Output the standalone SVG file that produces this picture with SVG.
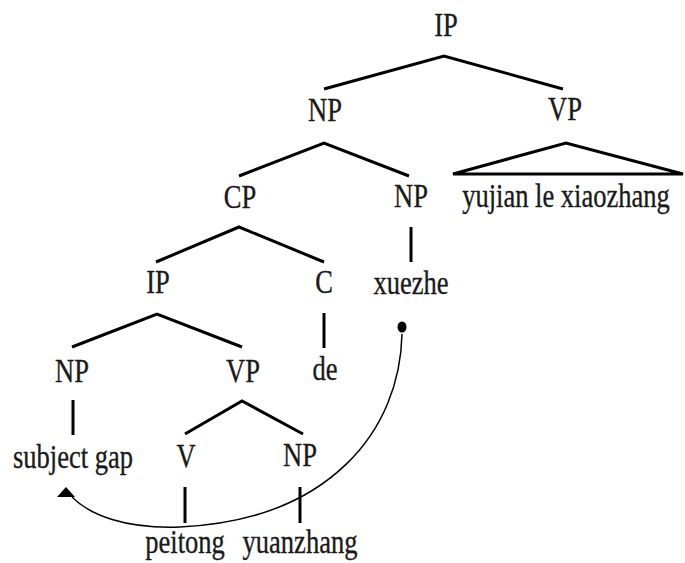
<svg xmlns="http://www.w3.org/2000/svg" width="685" height="563" viewBox="0 0 685 563">
<style>
text{font-family:"Liberation Serif","Times New Roman",serif;font-size:34px;fill:#1a1a1a;stroke:#1a1a1a;stroke-width:0.35;text-anchor:middle}
.e{stroke:#000;stroke-width:3;fill:none;stroke-linecap:butt;stroke-linejoin:miter}
.m{stroke:#000;stroke-width:1.5;fill:none}
</style>
<rect width="685" height="563" fill="#fff"/>
<g id="connectors">
<path class="e" d="M324,89L444,56L563,89"/>
<path class="e" d="M239,176L324,143L409,176"/>
<path class="e" d="M453,174L566,143L683,174Z"/>
<path class="e" d="M156,262L239,227L324,262"/>
<path class="e" d="M411,227V262"/>
<path class="e" d="M72,347L157,314L242,347"/>
<path class="e" d="M324,313V348"/>
<path class="e" d="M73,400V435"/>
<path class="e" d="M185,434L242,401L303,434"/>
<path class="e" d="M185,487V523"/>
<path class="e" d="M300,487V523"/>
<path class="m" d="M402,334C400,430 330,520 180,527C125,529 90,515 72,497"/>
<ellipse cx="402" cy="327" rx="4.5" ry="5.5" fill="#000"/>
<path d="M66,487L75,497L57,497Z" fill="#000"/>
</g>
<g id="ip-root"><text transform="translate(446,36) scale(0.78,1)">IP</text></g>
<g id="np-subj"><text transform="translate(325,121) scale(0.78,1)">NP</text></g>
<g id="vp-main"><text transform="translate(565,120) scale(0.78,1)">VP</text></g>
<g id="vp-yield"><text transform="translate(566,207) scale(0.78,1)">yujian le xiaozhang</text></g>
<g id="cp"><text transform="translate(240,208) scale(0.78,1)">CP</text></g>
<g id="np-head"><text transform="translate(411,207) scale(0.78,1)">NP</text></g>
<g id="ip-rel"><text transform="translate(158,293) scale(0.78,1)">IP</text></g>
<g id="c"><text transform="translate(324,293) scale(0.78,1)">C</text></g>
<g id="xuezhe"><text transform="translate(411,294) scale(0.78,1)">xuezhe</text></g>
<g id="np-gap"><text transform="translate(72,382) scale(0.78,1)">NP</text></g>
<g id="vp-rel"><text transform="translate(243,382) scale(0.78,1)">VP</text></g>
<g id="de"><text transform="translate(325,380) scale(0.78,1)">de</text></g>
<g id="subject-gap"><text transform="translate(73,468) scale(0.78,1)">subject gap</text></g>
<g id="v"><text transform="translate(186,467) scale(0.78,1)">V</text></g>
<g id="np-obj"><text transform="translate(300,466) scale(0.78,1)">NP</text></g>
<g id="peitong"><text transform="translate(185,553) scale(0.78,1)">peitong</text></g>
<g id="yuanzhang"><text transform="translate(300,553) scale(0.78,1)">yuanzhang</text></g>
</svg>
